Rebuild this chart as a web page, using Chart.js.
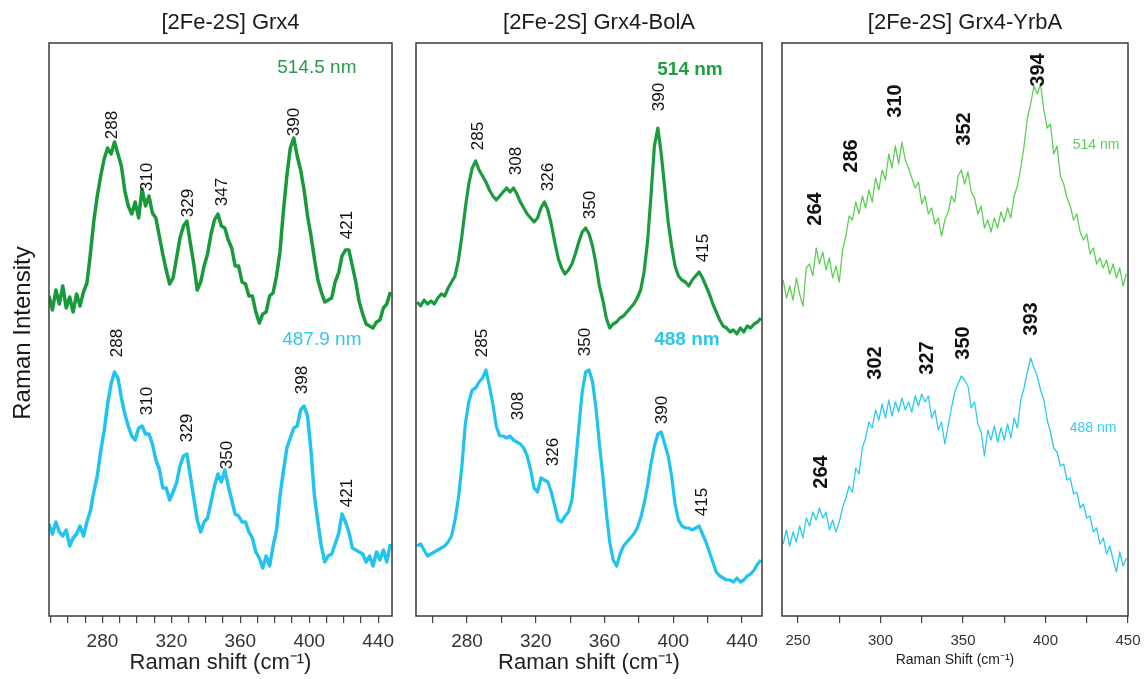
<!DOCTYPE html>
<html>
<head>
<meta charset="utf-8">
<script src="https://cdn.jsdelivr.net/npm/chart.js@4.4.0/dist/chart.umd.min.js"></script>
<style>
  body { margin: 0; background: #fff; width: 1146px; height: 679px; position: relative; overflow: hidden; }
  canvas { position: absolute; top: 0; }
</style>
</head>
<body>
<canvas id="panel-grx4" width="400" height="679" style="left:0"></canvas>
<canvas id="panel-bola" width="370" height="679" style="left:400px"></canvas>
<canvas id="panel-yrba" width="376" height="679" style="left:770px"></canvas>
<script>
// Desplazamiento Raman (cm-1) de cada panel
const shiftGrx4 = [
  249, 251, 253, 255, 257, 259, 261, 263, 265, 267,
  269, 271, 273, 275, 277, 279, 281, 283, 285, 287,
  289, 291, 293, 295, 297, 299, 301, 303, 305, 307,
  309, 311, 313, 315, 317, 319, 321, 323, 325, 327,
  329, 331, 333, 335, 337, 339, 341, 343, 345, 347,
  349, 351, 353, 355, 357, 359, 361, 363, 365, 367,
  369, 371, 373, 375, 377, 379, 381, 383, 385, 387,
  389, 391, 393, 395, 397, 399, 401, 403, 405, 407,
  409, 411, 413, 415, 417, 419, 421, 423, 425, 427,
  429, 431, 433, 435, 437, 439, 441, 443, 445, 447
];
const shiftBolA = [
  251, 253, 255, 257, 259, 261, 263, 265, 267, 269,
  271, 273, 275, 277, 279, 281, 283, 285, 287, 289,
  291, 293, 295, 297, 299, 301, 303, 305, 307, 309,
  311, 313, 315, 317, 319, 321, 323, 325, 327, 329,
  331, 333, 335, 337, 339, 341, 343, 345, 347, 349,
  351, 353, 355, 357, 359, 361, 363, 365, 367, 369,
  371, 373, 375, 377, 379, 381, 383, 385, 387, 389,
  391, 393, 395, 397, 399, 401, 403, 405, 407, 409,
  411, 413, 415, 417, 419, 421, 423, 425, 427, 429,
  431, 433, 435, 437, 439, 441, 443, 445, 447, 449,
  451
];
const shiftYrbA = [
  241, 243, 245, 247, 249, 251, 253, 255, 257, 259,
  261, 263, 265, 267, 269, 271, 273, 275, 277, 279,
  281, 283, 285, 287, 289, 291, 293, 295, 297, 299,
  301, 303, 305, 307, 309, 311, 313, 315, 317, 319,
  321, 323, 325, 327, 329, 331, 333, 335, 337, 339,
  341, 343, 345, 347, 349, 351, 353, 355, 357, 359,
  361, 363, 365, 367, 369, 371, 373, 375, 377, 379,
  381, 383, 385, 387, 389, 391, 393, 395, 397, 399,
  401, 403, 405, 407, 409, 411, 413, 415, 417, 419,
  421, 423, 425, 427, 429, 431, 433, 435, 437, 439,
  441, 443, 445, 447, 449
];

// Intensidades (u. arb., espectros desplazados)
const grx4_514 = [
  320, 306, 326, 312, 330, 308, 319, 304, 322, 310,
  324, 333, 362, 395, 420, 440, 457, 468, 462, 474,
  462, 450, 425, 410, 402, 414, 398, 427, 410, 420,
  403, 398, 380, 362, 346, 332, 338, 358, 378, 390,
  395, 373, 352, 326, 334, 350, 362, 382, 396, 402,
  390, 388, 376, 368, 350, 350, 334, 332, 320, 320,
  304, 293, 302, 304, 320, 323, 340, 364, 405, 440,
  468, 478, 460, 446, 426, 400, 380, 357, 336, 324,
  314, 316, 318, 334, 343, 360, 366, 366, 350, 334,
  314, 302, 292, 290, 288, 294, 296, 308, 312, 324
];
const grx4_488 = [
  92, 82, 94, 84, 80, 86, 70, 78, 82, 90,
  80, 94, 105, 124, 140, 165, 185, 212, 232, 244,
  238, 218, 202, 190, 180, 176, 188, 190, 182, 182,
  172, 156, 147, 128, 128, 116, 124, 133, 150, 160,
  162, 140, 118, 96, 84, 94, 98, 114, 130, 142,
  134, 146, 130, 116, 102, 100, 94, 94, 84, 78,
  64, 58, 48, 60, 50, 70, 86, 120, 145, 168,
  178, 188, 190, 206, 210, 200, 165, 120, 94, 70,
  54, 60, 62, 72, 82, 102, 94, 84, 68, 66,
  64, 62, 54, 60, 50, 64, 56, 66, 54, 72
];
const bola_514 = [
  314, 310, 316, 312, 315, 312, 318, 322, 320, 328,
  334, 340, 356, 380, 408, 432, 448, 455, 446, 440,
  434, 426, 420, 416, 420, 424, 428, 424, 428, 422,
  414, 408, 402, 398, 394, 398, 408, 414, 406, 392,
  374, 358, 348, 342, 346, 352, 362, 374, 384, 388,
  382, 370, 352, 330, 316, 298, 288, 292, 294, 298,
  300, 304, 308, 312, 318, 326, 344, 374, 420, 470,
  488, 462, 428, 394, 370, 350, 340, 336, 334, 330,
  336, 340, 344, 338, 330, 322, 312, 304, 296, 290,
  288, 284, 286, 282, 288, 284, 290, 288, 292, 294,
  298
];
const bola_488 = [
  70, 72, 66, 60, 62, 64, 66, 68, 70, 74,
  80, 96, 118, 150, 192, 214, 226, 228, 234, 238,
  246, 230, 212, 190, 180, 180, 178, 180, 176, 174,
  172, 168, 160, 146, 128, 124, 138, 136, 134, 124,
  110, 96, 94, 100, 104, 116, 150, 188, 224, 244,
  246, 234, 208, 172, 140, 104, 74, 56, 50, 62,
  70, 74, 78, 82, 88, 98, 112, 130, 152, 170,
  182, 184, 172, 160, 140, 112, 96, 90, 88, 88,
  86, 88, 90, 82, 74, 64, 54, 44, 40, 38,
  36, 36, 34, 38, 34, 36, 40, 42, 46, 52,
  56
];
const yrba_514 = [
  336, 318, 330, 316, 338, 322, 310, 348, 352, 340,
  368, 352, 364, 346, 358, 338, 350, 334, 366, 380,
  400, 396, 414, 402, 420, 408, 426, 414, 438, 426,
  446, 436, 462, 448, 470, 452, 474, 456, 448, 438,
  428, 434, 412, 420, 402, 408, 392, 398, 380, 396,
  404, 420, 414, 440, 446, 432, 444, 424, 418, 402,
  410, 388, 396, 384, 398, 388, 404, 394, 408, 398,
  420, 430, 448, 470, 498, 512, 530, 522, 532, 506,
  488, 492, 462, 470, 440, 432, 418, 410, 396, 402,
  384, 376, 382, 362, 368, 352, 358, 348, 356, 342,
  352, 338, 348, 330, 342
];
const yrba_488 = [
  72, 86, 70, 84, 74, 90, 78, 98, 90, 104,
  96, 108, 98, 104, 86, 96, 84, 94, 108, 118,
  130, 124, 148, 142, 168, 178, 194, 188, 206, 196,
  212, 198, 216, 200, 214, 204, 218, 206, 214, 204,
  220, 210, 222, 214, 220, 198, 206, 186, 194, 172,
  190, 208, 224, 232, 240, 236, 230, 208, 214, 192,
  184, 160, 186, 176, 190, 174, 188, 176, 192, 178,
  198, 188, 216, 228, 244, 258, 248, 240, 226, 216,
  196, 184, 168, 164, 150, 152, 136, 138, 122, 124,
  108, 112, 98, 100, 84, 88, 72, 78, 62, 70,
  56, 44, 64, 50, 58
];

// Picos asignados
const picosGrx4_514 = [288, 310, 329, 347, 390, 421];
const picosGrx4_488 = [288, 310, 329, 350, 398, 421];
const picosBolA_514 = [285, 308, 326, 350, 390, 415];
const picosBolA_488 = [285, 308, 326, 350, 390, 415];
const picosYrbA_514 = [264, 286, 310, 352, 394];
const picosYrbA_488 = [264, 302, 327, 350, 393];

const FUENTE = '"Liberation Sans", Arial, sans-serif';
Chart.defaults.font.family = FUENTE;

// Plugin: marco, titulo, numeros de picos y laser
const decoracion = {
    id: 'decoracion',
    afterDatasetsDraw(chart, args, opts) {
        const { ctx, chartArea, scales } = chart;
        ctx.save();
        ctx.strokeStyle = '#3a3a3a';
        ctx.lineWidth = 1.5;
        ctx.strokeRect(chartArea.left, chartArea.top, chartArea.width, chartArea.height);

        ctx.textAlign = 'center';
        ctx.textBaseline = 'middle';
        ctx.fillStyle = '#1a1a1a';
        ctx.font = '22px ' + FUENTE;
        ctx.fillText(opts.titulo, (chartArea.left + chartArea.right) / 2 + 10, 23);

        if (opts.tituloY) {
            ctx.save();
            ctx.translate(23, 333);
            ctx.rotate(-Math.PI / 2);
            ctx.font = '24px ' + FUENTE;
            ctx.fillText(opts.tituloY, 0, 0);
            ctx.restore();
        }

        // numeros girados sobre los picos
        opts.picos.forEach(grupo => {
            ctx.font = grupo.fuente;
            ctx.fillStyle = '#111';
            grupo.valores.forEach((v, i) => {
                const p = grupo.pos[i];
                ctx.save();
                ctx.translate(scales.x.getPixelForValue(p[0]), scales.y.getPixelForValue(p[1]));
                ctx.rotate(-Math.PI / 2);
                ctx.fillText(String(v), 0, 0);
                ctx.restore();
            });
        });

        opts.laser.forEach(l => {
            ctx.font = l.fuente;
            ctx.fillStyle = l.color;
            ctx.fillText(l.texto, scales.x.getPixelForValue(l.x), scales.y.getPixelForValue(l.y));
        });
        ctx.restore();
    }
};

function crearPanel(id, cfg) {
    const ctx = document.getElementById(id).getContext('2d');
    return new Chart(ctx, {
        type: 'line',
        data: {
            datasets: cfg.series.map(s => ({
                data: cfg.shift.map((x, i) => ({ x: x, y: s.valores[i] })),
                borderColor: s.color,
                borderWidth: cfg.grosor,
                borderJoinStyle: 'round',
                pointRadius: 0,
                tension: 0,
                fill: false
            }))
        },
        options: {
            responsive: false,
            animation: false,
            layout: { padding: cfg.padding },
            plugins: {
                legend: { display: false },
                tooltip: { enabled: false },
                decoracion: {
                    titulo: cfg.titulo,
                    tituloY: cfg.tituloY,
                    picos: cfg.picos,
                    laser: cfg.laser
                }
            },
            scales: {
                x: {
                    type: 'linear',
                    min: cfg.min,
                    max: cfg.max,
                    border: { display: false },
                    grid: {
                        drawOnChartArea: false,
                        drawTicks: true,
                        tickLength: 7,
                        color: '#444',
                        lineWidth: 1.2
                    },
                    ticks: {
                        stepSize: cfg.paso,
                        includeBounds: false,
                        autoSkip: false,
                        maxRotation: 0,
                        padding: cfg.tickPad,
                        color: '#333',
                        font: { size: cfg.tickSize },
                        callback: cfg.etiqueta
                    },
                    title: {
                        display: true,
                        text: cfg.tituloX,
                        color: '#222',
                        font: { size: cfg.tituloXSize },
                        padding: { top: 0, bottom: cfg.tituloXPad }
                    },
                    afterFit: s => {
                        s.height = 63;
                        s.paddingLeft = 0;
                        s.paddingRight = 0;
                    }
                },
                y: { display: false, min: 0, max: 573 }
            }
        },
        plugins: [decoracion]
    });
}

const VERDE = '#18993a';
const CIAN = '#22c4ef';

crearPanel('panel-grx4', {
    titulo: '[2Fe-2S] Grx4',
    tituloY: 'Raman Intensity',
    shift: shiftGrx4,
    series: [
        { valores: grx4_514, color: VERDE },
        { valores: grx4_488, color: CIAN }
    ],
    grosor: 3.5,
    padding: { left: 49, right: 8, top: 43, bottom: 0 },
    min: 249, max: 448, paso: 10,
    etiqueta: v => (v >= 280 && v % 40 === 0) ? v : '',
    tickSize: 19, tickPad: 7,
    tituloX: 'Raman shift (cm\u207B\u00B9)', tituloXSize: 22, tituloXPad: 3,
    picos: [
        { valores: picosGrx4_514, fuente: '17px ' + FUENTE,
          pos: [[285.5, 491], [305.8, 439], [329.6, 413], [349.3, 424], [391.6, 494], [422.3, 391]] },
        { valores: picosGrx4_488, fuente: '17px ' + FUENTE,
          pos: [[288.4, 273], [305.8, 215], [329, 188], [352.2, 161], [396.2, 236], [421.8, 123]] }
    ],
    laser: [
        { texto: '514.5 nm', x: 404.4, y: 548, color: '#2a9a4a', fuente: '19px ' + FUENTE },
        { texto: '487.9 nm', x: 407.3, y: 276, color: '#33c6ee', fuente: '19px ' + FUENTE }
    ]
});

crearPanel('panel-bola', {
    titulo: '[2Fe-2S] Grx4-BolA',
    shift: shiftBolA,
    series: [
        { valores: bola_514, color: '#1c9a3e' },
        { valores: bola_488, color: '#1fc3ee' }
    ],
    grosor: 3.2,
    padding: { left: 16, right: 8, top: 43, bottom: 0 },
    min: 250.3, max: 451.6, paso: 20,
    etiqueta: v => (v >= 280 && v % 40 === 0) ? v : '',
    tickSize: 19, tickPad: 7,
    tituloX: 'Raman shift (cm\u207B\u00B9)', tituloXSize: 22, tituloXPad: 3,
    picos: [
        { valores: picosBolA_514, fuente: '17px ' + FUENTE,
          pos: [[286.4, 480], [308.5, 455], [327.1, 439], [351.5, 411], [391.7, 519], [417.3, 368]] },
        { valores: picosBolA_488, fuente: '17px ' + FUENTE,
          pos: [[288.7, 273], [309.6, 210], [330, 164], [348.6, 274], [393.4, 206], [416.7, 114]] }
    ],
    laser: [
        { texto: '514 nm', x: 409.7, y: 546, color: '#1f9e44', fuente: 'bold 19px ' + FUENTE },
        { texto: '488 nm', x: 407.9, y: 276, color: '#2cc6ef', fuente: 'bold 19px ' + FUENTE }
    ]
});

crearPanel('panel-yrba', {
    titulo: '[2Fe-2S] Grx4-YrbA',
    shift: shiftYrbA,
    series: [
        { valores: yrba_514, color: '#5ccf52' },
        { valores: yrba_488, color: '#2ccaf0' }
    ],
    grosor: 1.3,
    padding: { left: 12, right: 18, top: 43, bottom: 0 },
    min: 240.3, max: 450, paso: 25,
    etiqueta: v => (v % 50 === 0) ? v : '',
    tickSize: 15, tickPad: 9,
    tituloX: 'Raman Shift (cm\u207B\u00B9)', tituloXSize: 14, tituloXPad: 10,
    picos: [
        { valores: picosYrbA_514, fuente: 'bold 20px ' + FUENTE,
          pos: [[260.3, 407], [282.7, 460], [308.8, 515], [351.2, 487], [395.5, 546]] },
        { valores: picosYrbA_488, fuente: 'bold 20px ' + FUENTE,
          pos: [[264.5, 144], [296.7, 253], [328.2, 258], [350, 273], [391.8, 297]] }
    ],
    laser: [
        { texto: '514 nm', x: 430.6, y: 471, color: '#62cc5e', fuente: '14px ' + FUENTE },
        { texto: '488 nm', x: 428.8, y: 188, color: '#3ac8ee', fuente: '14px ' + FUENTE }
    ]
});
</script>
</body>
</html>
